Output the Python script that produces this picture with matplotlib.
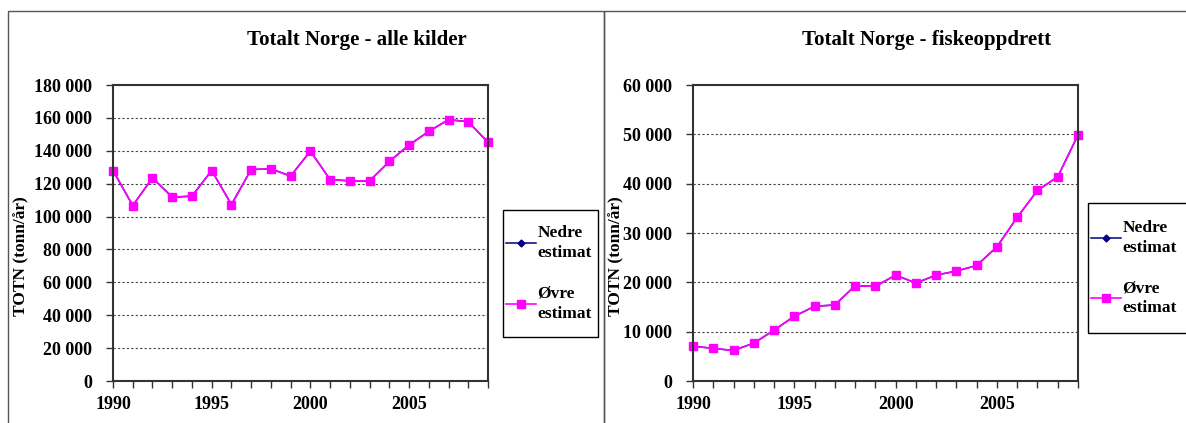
import numpy as np
import matplotlib
matplotlib.use("Agg")
from matplotlib import pyplot as plt
from matplotlib.ticker import MultipleLocator, FuncFormatter
from matplotlib.patches import Rectangle

years = list(range(1990, 2010))

# Totalt Norge - alle kilder (tonn/år)
alle_ovre = [128000, 106700, 123500, 111800, 112400, 128000, 107300, 128600, 129000, 124600,
             139800, 122500, 121700, 121700, 133500, 143500, 151800, 158900, 157700, 145100]
alle_nedre = alle_ovre

# Totalt Norge - fiskeoppdrett (tonn/år)
fisk_ovre = [7070, 6600, 6190, 7670, 10300, 13120, 15140, 15410, 19310, 19180,
             21470, 19850, 21470, 22280, 23420, 27190, 33180, 38630, 41390, 49870]
fisk_nedre = fisk_ovre

titles = ["Totalt Norge - alle kilder", "Totalt Norge - fiskeoppdrett"]
ylabel = "TOTN (tonn/år)"
labels = ["Nedre\nestimat", "Øvre\nestimat"]

plt.rcParams['font.family'] = ['Liberation Serif', 'DejaVu Serif']
plt.rcParams['font.weight'] = 'bold'

W, H = 1186, 423
fig = plt.figure(figsize=(W / 100, H / 100), dpi=100)


def box(x0, y0, x1, y1):
    # pixel box (top-left origin) -> figure fraction rect
    return [x0 / W, 1 - y1 / H, (x1 - x0) / W, (y1 - y0) / H]


def thousands(v, pos):
    return f"{int(v):,}".replace(",", " ")


panels = [
    dict(ax=(113, 85, 488, 381), ymax=180000, step=20000, nedre=alle_nedre, ovre=alle_ovre,
         title_x=357, ylab_x=29, leg=(503, 210, 598, 337)),
    dict(ax=(693, 85, 1078, 381), ymax=60000, step=10000, nedre=fisk_nedre, ovre=fisk_ovre,
         title_x=927, ylab_x=624, leg=(1088, 203, 1196, 333)),
]

# panel frames
fig.add_artist(Rectangle((8 / W, -0.01), 596 / W, 1.01 - 11 / H, transform=fig.transFigure,
                         fill=False, edgecolor='#555555', lw=1.0))
fig.add_artist(Rectangle((604 / W, -0.01), 590 / W, 1.01 - 11 / H, transform=fig.transFigure,
                         fill=False, edgecolor='#555555', lw=1.0))

for i, p in enumerate(panels):
    ax0, ay0, ax1, ay1 = p['ax']
    ax = fig.add_axes(box(ax0, ay0, ax1, ay1))
    l1, = ax.plot(years, p['nedre'], color='#000080', marker='D', markersize=3.5, lw=1.1,
                  label=labels[0], clip_on=False)
    l2, = ax.plot(years, p['ovre'], color='#FF00FF', marker='s', markersize=5.5, lw=1.2,
                  label=labels[1], clip_on=False)
    ax.set_xlim(1990, 2009)
    ax.set_ylim(0, p['ymax'])
    ax.xaxis.set_major_locator(MultipleLocator(5))
    ax.xaxis.set_minor_locator(MultipleLocator(1))
    ax.yaxis.set_major_locator(MultipleLocator(p['step']))
    ax.yaxis.set_major_formatter(FuncFormatter(thousands))
    ax.tick_params(axis='both', which='both', direction='out', length=5, width=1,
                   labelsize=13, color='#333333')
    ax.tick_params(axis='y', pad=10)
    ax.tick_params(axis='x', pad=6)
    for s in ax.spines.values():
        s.set_color('#333333')
        s.set_linewidth(1.5)
    ax.grid(axis='y', color='#444444', linestyle=(0, (2, 2)), linewidth=0.8)
    ax.set_axisbelow(True)
    ax.set_ylabel(ylabel, fontsize=12.5, fontweight='bold')
    ax.yaxis.set_label_coords((p['ylab_x'] - ax0) / (ax1 - ax0), (ay1 - 256) / (ay1 - ay0))
    fig.text(p['title_x'] / W, 1 - 40 / H, titles[i], ha='center', va='center',
             fontsize=15, fontweight='bold')

    # legend frame drawn by hand, legend content placed inside it
    x0, y0, x1, y1 = p['leg']
    fig.add_artist(Rectangle((x0 / W, 1 - y1 / H), (x1 - x0) / W, (y1 - y0) / H,
                             transform=fig.transFigure, fill=False, edgecolor='black', lw=1.0))
    leg = fig.legend(handles=[l1, l2], loc='center left',
                     bbox_to_anchor=(x0 / W + 3 / W, 1 - (y0 + y1) / 2 / H),
                     bbox_transform=fig.transFigure, frameon=False, fontsize=12.5,
                     handlelength=1.7, handletextpad=0.1, labelspacing=1.4, borderpad=0,
                     borderaxespad=0)
    for t in leg.get_texts():
        t.set_linespacing(1.35)

fig.savefig("out.png", dpi=100)
